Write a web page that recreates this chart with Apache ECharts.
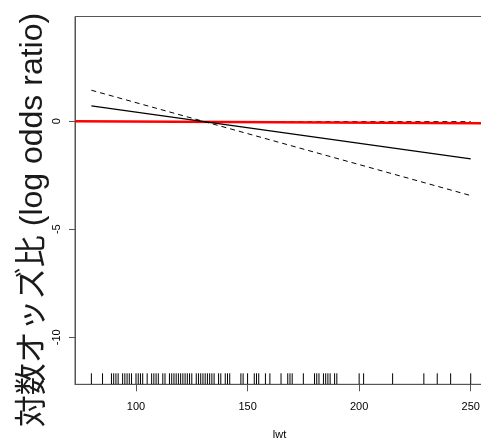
<!DOCTYPE html>
<html><head><meta charset="utf-8">
<script src="https://cdn.jsdelivr.net/npm/echarts@6/dist/echarts.min.js"></script>
<style>html,body{margin:0;padding:0;background:#fff}#c{width:481px;height:441px}</style>
</head><body><div id="c"></div>
<script>
// lwt values shown in the rug
const rugLwt = [80,85,89,90,91,92,94,95,96,97,98,100,101,102,103,105,107,108,109,110,112,113,115,116,117,118,119,120,121,122,123,124,125,127,128,129,130,131,132,133,134,135,137,138,140,141,142,147,148,150,153,154,155,158,160,165,168,169,170,175,180,181,182,184,185,186,187,189,190,200,202,215,229,235,241,250];
// fitted term (solid)
const fitX = [80, 250];
const fitY = [0.71, -1.745];
// standard-error bands (dashed)
const bandX = [80, 250];
const bandLowY = [1.435, -3.44];
const bandHighY = [-0.01, -0.02];
// red reference line
const refX = [72.66, 256];
const refY = [0.0, -0.09];
// axis ticks
const xTicks = [100, 150, 200, 250];
const yTicks = [-10, -5, 0];
const xRange = [72.66, 256];
const yRange = [-12.18, 4.85];

const pairs = (xs, ys) => xs.map((x, i) => [x, ys[i]]);
const FONT = '"Liberation Sans", Arial, sans-serif';
const chart = echarts.init(document.getElementById('c'), null, {renderer: 'canvas'});
chart.setOption({
  animation: false,
  grid: {left: 75, top: 16.5, right: -3.1, bottom: 56.7, containLabel: false, outerBoundsMode: 'none', show: true, borderColor: '#555', borderWidth: 1, backgroundColor: 'transparent'},
  xAxis: {
    type: 'value', min: xRange[0], max: xRange[1],
    name: 'lwt', nameLocation: 'middle', nameGap: 45,
    nameTextStyle: {fontFamily: FONT, fontSize: 11, color: '#000'},
    axisLine: {show: true, onZero: false, lineStyle: {color: '#555', width: 1}},
    axisTick: {show: true, length: 7, customValues: xTicks, lineStyle: {color: '#555'}},
    axisLabel: {customValues: xTicks, margin: 17, fontFamily: FONT, fontSize: 11, color: '#000'},
    splitLine: {show: false}
  },
  yAxis: {
    type: 'value', min: yRange[0], max: yRange[1],
    axisLine: {show: true, onZero: false, lineStyle: {color: '#555', width: 1}},
    axisTick: {show: true, length: 6, customValues: yTicks, lineStyle: {color: '#555'}},
    axisLabel: {customValues: yTicks, rotate: 90, margin: 13, fontFamily: FONT, fontSize: 11, color: '#000', formatter: v => String(v)},
    splitLine: {show: false}
  },
  graphic: [{
    type: 'text', x: 33, y: 220, rotation: Math.PI / 2,
    style: {text: '対数オッズ比 (log odds ratio)', fontFamily: '"Liberation Sans", "Noto Sans CJK JP", sans-serif', fontSize: 32, fill: '#1a1a1a', align: 'center', verticalAlign: 'middle'}
  }],
  series: [
    {type: 'custom', data: rugLwt.map(v => [v]), silent: true, clip: true,
     renderItem: (params, api) => {
       const p = api.coord([api.value(0), yRange[0]]);
       return {type: 'line', shape: {x1: p[0], y1: p[1], x2: p[0], y2: p[1] - 11}, style: {stroke: '#000', lineWidth: 1}};
     }},
    {type: 'line', data: pairs(bandX, bandHighY), symbol: 'none', lineStyle: {color: '#000', width: 1, type: [5, 4]}},
    {type: 'line', data: pairs(refX, refY), symbol: 'none', lineStyle: {color: '#ff0000', width: 2.5}},
    {type: 'line', data: pairs(fitX, fitY), symbol: 'none', lineStyle: {color: '#000', width: 1.2}},
    {type: 'line', data: pairs(bandX, bandLowY), symbol: 'none', lineStyle: {color: '#000', width: 1, type: [5, 4]}}
  ]
});
</script></body></html>
